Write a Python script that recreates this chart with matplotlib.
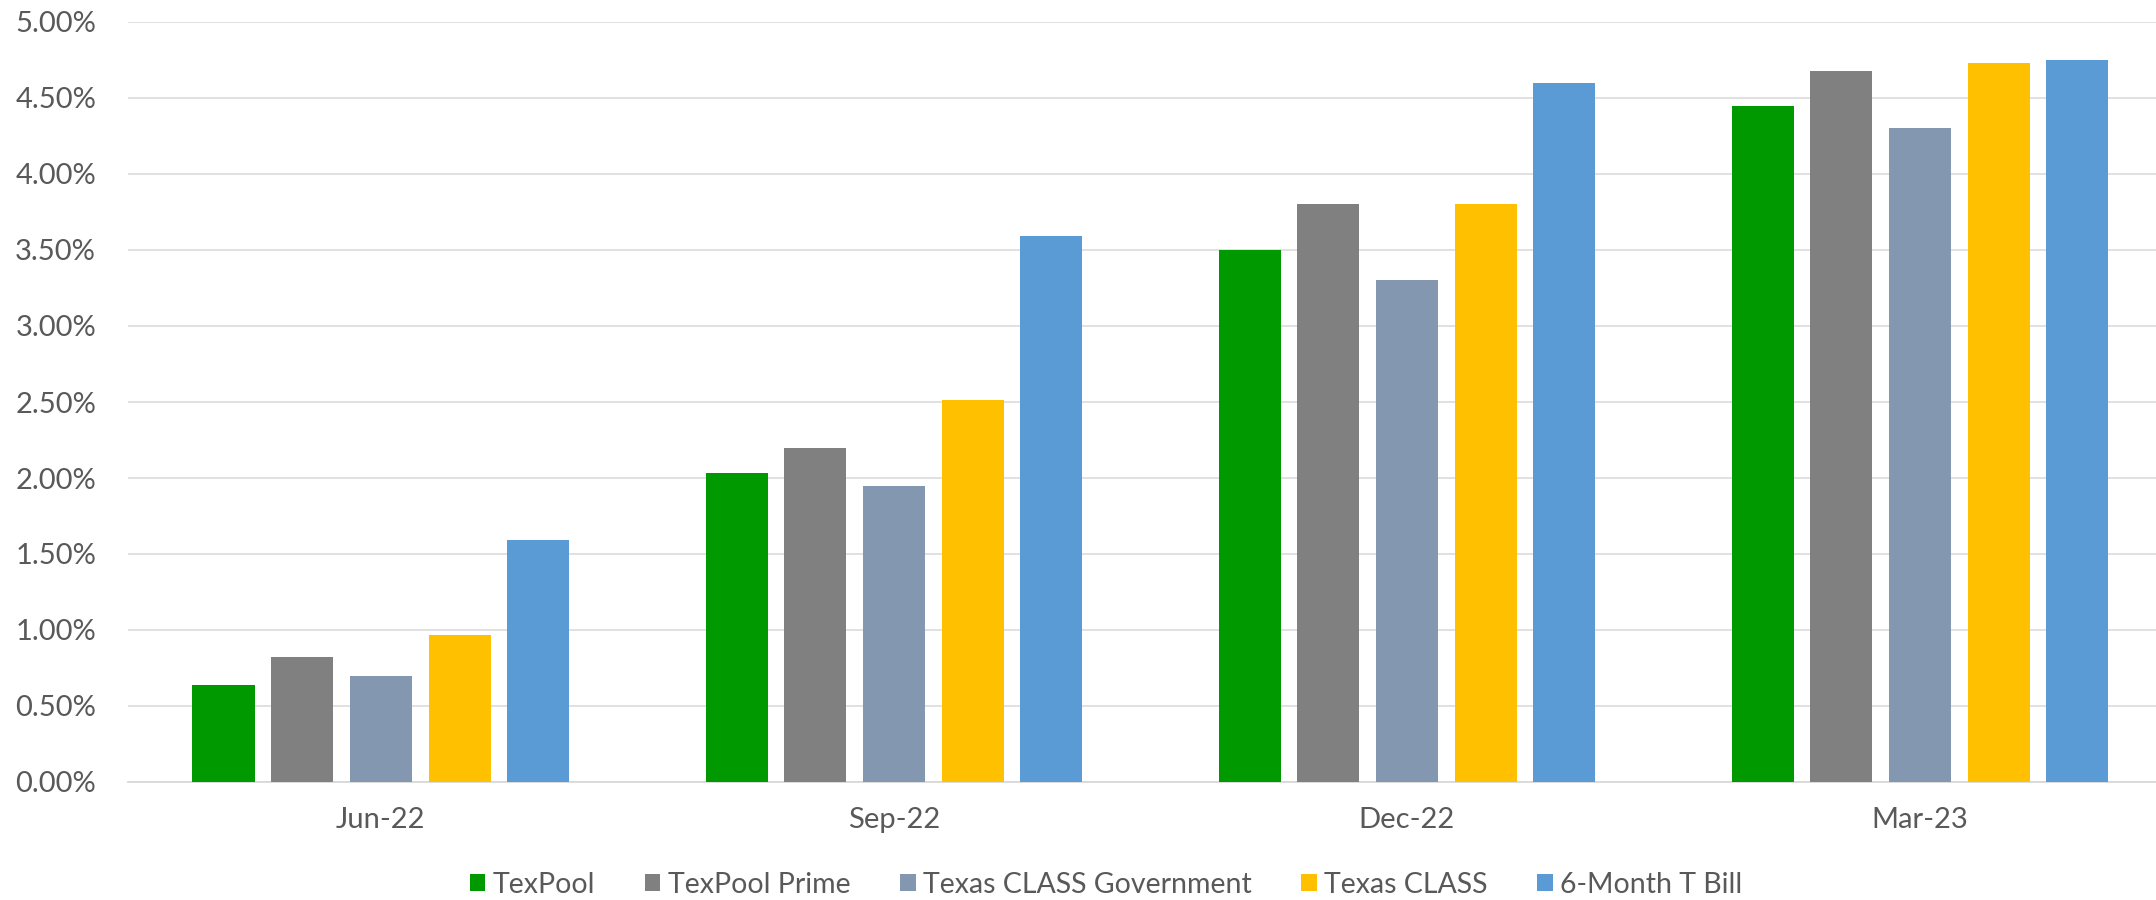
"""Quarterly yields: TexPool vs Texas CLASS vs 6-month T-bill (grouped bars)."""
import matplotlib

matplotlib.use("Agg")
import matplotlib.pyplot as plt  # noqa: E402
import numpy as np  # noqa: E402
from matplotlib.ticker import FuncFormatter  # noqa: E402

quarters = ["Jun-22", "Sep-22", "Dec-22", "Mar-23"]
series_names = ["TexPool", "TexPool Prime", "Texas CLASS Government",
                "Texas CLASS", "6-Month T Bill"]
texpool = [0.64, 2.03, 3.50, 4.45]
texpool_prime = [0.82, 2.20, 3.80, 4.68]
class_gov = [0.70, 1.95, 3.30, 4.30]
texas_class = [0.97, 2.51, 3.80, 4.73]
tbill = [1.59, 3.59, 4.60, 4.75]

series = [texpool, texpool_prime, class_gov, texas_class, tbill]
colors = ["#009900", "#808080", "#8497B0", "#FFC000", "#5B9BD5"]

plt.rcParams["font.family"] = ["Lato", "DejaVu Sans"]
text_color = "#595959"
grid_color = "#D9D9D9"

fig = plt.figure(figsize=(21.56, 9.0), dpi=100)
ax = fig.add_axes([128 / 2156, 1 - 782 / 900, 1 - 128 / 2156, (782 - 22) / 900])

x = np.arange(len(quarters))
width = 0.121
step = 0.1534
bars = []
for i, (vals, col, name) in enumerate(zip(series, colors, series_names)):
    b = ax.bar(x + (i - 2) * step, vals, width, color=col, label=name, zorder=3)
    bars.append(b)

# categories are a little wider than the visible plot area (the last one runs off the edge)
ax.set_xlim(-0.493, 3.46)
ax.set_ylim(0, 5.0)
ax.set_yticks(np.arange(0, 5.01, 0.5))
ax.yaxis.set_major_formatter(FuncFormatter(lambda v, _: f"{v:.2f}%"))
ax.set_xticks(x)
ax.set_xticklabels(quarters)

ax.grid(axis="y", color=grid_color, linewidth=1.1, zorder=0)
for side in ("top", "right", "left"):
    ax.spines[side].set_visible(False)
ax.spines["bottom"].set_color(grid_color)
ax.spines["bottom"].set_linewidth(1.3)
ax.tick_params(axis="both", length=0, labelsize=21, colors=text_color)
ax.tick_params(axis="y", pad=23)
ax.tick_params(axis="x", pad=18)

fig.legend(handles=bars, loc="center", bbox_to_anchor=(0.513, 0.017), ncol=5,
           frameon=False, fontsize=20.5, labelcolor=text_color,
           handlelength=0.55, handleheight=0.55, handletextpad=0.25,
           columnspacing=1.75, borderaxespad=0, borderpad=0)

fig.savefig("out.png", dpi=100)
plt.close(fig)
